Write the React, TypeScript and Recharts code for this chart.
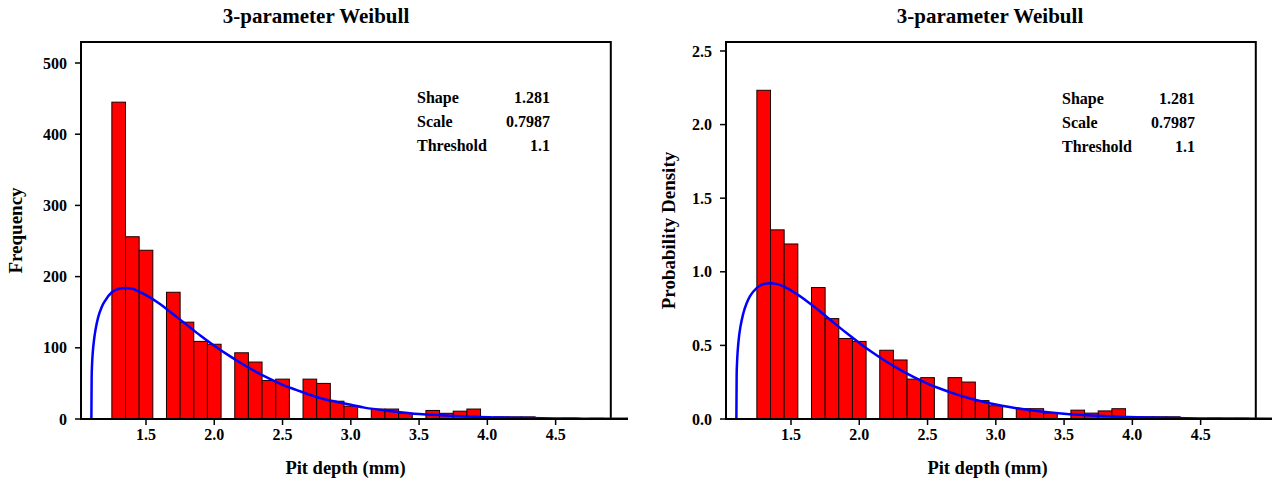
import React from 'react';
import { ComposedChart, Bar, Line, XAxis, YAxis, ReferenceArea } from 'recharts';

// ---- data ----
const binCenters = [1.3, 1.4, 1.5, 1.7, 1.8, 1.9, 2.0, 2.2, 2.3, 2.4, 2.5, 2.7, 2.8, 2.9, 3.0, 3.2, 3.3, 3.4, 3.6, 3.7, 3.8, 3.9, 4.1, 4.2, 4.3, 4.6, 4.8];
const binCounts = [445, 256, 237, 178, 136, 109, 105, 93, 80, 54, 56, 56, 50, 25, 18, 14, 14, 8, 12, 8, 11, 14, 3, 3, 3, 1, 1];
const binDensities = [2.233, 1.285, 1.189, 0.893, 0.682, 0.547, 0.527, 0.467, 0.401, 0.271, 0.281, 0.281, 0.251, 0.125, 0.09, 0.07, 0.07, 0.04, 0.06, 0.04, 0.055, 0.07, 0.015, 0.015, 0.015, 0.005, 0.005];

const curveX = [1.1, 1.102, 1.105, 1.11, 1.12, 1.13, 1.15, 1.175, 1.2, 1.25, 1.3, 1.35, 1.4, 1.45, 1.5, 1.6, 1.7, 1.8, 1.9, 2.0, 2.1, 2.2, 2.3, 2.4, 2.5, 2.6, 2.7, 2.8, 2.9, 3.0, 3.1, 3.3, 3.5, 3.7, 3.9, 4.1, 4.3, 4.5, 4.7, 5.03];
const curveFreq = [0, 59, 77, 93, 112, 125, 143, 157, 166, 178, 183, 184, 183, 179, 174, 162, 147, 132, 117, 103, 90, 78, 67, 57, 48, 41, 34, 28, 24, 20, 16, 11, 7, 5, 3, 2, 1.3, 0.8, 0.5, 0.2];
const curveDensity = [0, 0.298, 0.385, 0.467, 0.564, 0.628, 0.715, 0.786, 0.834, 0.891, 0.917, 0.923, 0.916, 0.899, 0.874, 0.812, 0.74, 0.664, 0.589, 0.517, 0.45, 0.389, 0.334, 0.285, 0.241, 0.204, 0.171, 0.143, 0.119, 0.098, 0.081, 0.055, 0.036, 0.024, 0.016, 0.01, 0.006, 0.004, 0.003, 0.001];

const xTicks = [1.5, 2.0, 2.5, 3.0, 3.5, 4.0, 4.5];
const freqTicks = [0, 100, 200, 300, 400, 500];
const densityTicks = [0, 0.5, 1.0, 1.5, 2.0, 2.5];

const paramLabels = ['Shape', 'Scale', 'Threshold'];
const paramValues = ['1.281', '0.7987', '1.1'];
const titleText = '3-parameter Weibull';
const xLabelText = 'Pit depth (mm)';

// ---- layout ----
const FONT = '"Liberation Serif", "Times New Roman", serif';
const CHART_W = 640;
const CHART_H = 483;
const MARGIN = { top: 42, right: 12, bottom: 4, left: 31 };
const YAXIS_W = 50;
const XAXIS_H = 60;
const X_MIN = 1.024;
const X_MAX = 5.03;
const FRAME_X = 4.904;
const BIN = 0.1;
const PLOT_W = CHART_W - MARGIN.left - MARGIN.right - YAXIS_W;
const BIN_PX = (BIN * PLOT_W) / (X_MAX - X_MIN);

const BinShape = (props: any) => {
  const { x, width, y, height } = props;
  if (!height || height <= 0 || !isFinite(x)) return null;
  const cx = x + (width || 0) / 2;
  return (
    <rect
      x={cx - BIN_PX / 2}
      y={y}
      width={BIN_PX}
      height={height}
      fill="#FF0000"
      stroke="#1a0000"
      strokeWidth={1}
    />
  );
};

type PanelProps = {
  left: number;
  yMax: number;
  yTicks: number[];
  yFmt: (v: number) => string;
  yLabel: string;
  yLabelOffset: number;
  bars: number[];
  curve: number[];
  titleCx: number;
  xLabelDx: number;
  legendTop: number;
};

const Panel = ({ left, yMax, yTicks, yFmt, yLabel, yLabelOffset, bars, curve, titleCx, xLabelDx, legendTop }: PanelProps) => {
  const barData = binCenters.map((x, i) => ({ x, y: bars[i] }));
  const lineData = curveX.map((x, i) => ({ x, y: curve[i] }));
  const tickStyle = { fontFamily: FONT, fontWeight: 'bold' as const, fontSize: 16, fill: '#000' };
  const frameLeft = MARGIN.left + YAXIS_W;
  return (
    <div style={{ position: 'absolute', left, top: 0, width: CHART_W, height: CHART_H }}>
      <div
        style={{
          position: 'absolute',
          left: titleCx - 200,
          width: 400,
          top: 4,
          textAlign: 'center',
          fontFamily: FONT,
          fontWeight: 'bold',
          fontSize: 21,
          lineHeight: '24px',
        }}
      >
        {titleText}
      </div>
      <ComposedChart width={CHART_W} height={CHART_H} data={barData} margin={MARGIN}>
        <XAxis
          type="number"
          dataKey="x"
          domain={[X_MIN, X_MAX]}
          allowDataOverflow
          ticks={xTicks}
          interval={0}
          tickFormatter={(v: number) => v.toFixed(1)}
          height={XAXIS_H}
          tick={tickStyle}
          tickSize={6}
          tickMargin={4}
          axisLine={{ stroke: '#000', strokeWidth: 2 }}
          tickLine={{ stroke: '#000', strokeWidth: 1.5 }}
          label={{
            value: xLabelText,
            position: 'insideBottom',
            offset: 5,
            dx: xLabelDx,
            style: { fontFamily: FONT, fontWeight: 'bold', fontSize: 18.5, fill: '#000' },
          }}
        />
        <YAxis
          type="number"
          domain={[0, yMax]}
          allowDataOverflow
          ticks={yTicks}
          interval={0}
          tickFormatter={yFmt}
          width={YAXIS_W}
          tick={tickStyle}
          tickSize={6}
          tickMargin={8}
          axisLine={{ stroke: '#000', strokeWidth: 2 }}
          tickLine={{ stroke: '#000', strokeWidth: 1.5 }}
          label={{
            value: yLabel,
            angle: -90,
            position: 'insideLeft',
            offset: yLabelOffset,
            style: { textAnchor: 'middle', fontFamily: FONT, fontWeight: 'bold', fontSize: 19, fill: '#000' },
          }}
        />
        <ReferenceArea x1={X_MIN} x2={FRAME_X} y1={0} y2={yMax} fill="none" stroke="#000" strokeWidth={2} ifOverflow="visible" />
        <Bar dataKey="y" shape={BinShape} isAnimationActive={false} />
        <Line
          data={lineData}
          dataKey="y"
          type="monotone"
          stroke="#0000FF"
          strokeWidth={2.5}
          dot={false}
          activeDot={false}
          isAnimationActive={false}
        />
      </ComposedChart>
      {paramLabels.map((lab, i) => (
        <div
          key={lab}
          style={{
            position: 'absolute',
            left: frameLeft + 336,
            width: 133,
            top: legendTop + i * 24,
            display: 'flex',
            justifyContent: 'space-between',
            fontFamily: FONT,
            fontWeight: 'bold',
            fontSize: 16,
            lineHeight: '18px',
          }}
        >
          <span>{lab}</span>
          <span>{paramValues[i]}</span>
        </div>
      ))}
    </div>
  );
};

export default function App() {
  return (
    <div style={{ position: 'absolute', left: 0, top: 0, width: 1272, height: 483, overflow: 'hidden', background: '#fff' }}>
      <Panel
        left={0}
        yMax={529.5}
        yTicks={freqTicks}
        yFmt={(v: number) => String(v)}
        yLabel="Frequency"
        yLabelOffset={-16}
        bars={binCounts}
        curve={curveFreq}
        titleCx={316}
        xLabelDx={-9}
        legendTop={89}
      />
      <Panel
        left={645}
        yMax={2.561}
        yTicks={densityTicks}
        yFmt={(v: number) => v.toFixed(1)}
        yLabel="Probability Density"
        yLabelOffset={-8}
        bars={binDensities}
        curve={curveDensity}
        titleCx={345}
        xLabelDx={-12}
        legendTop={90}
      />
    </div>
  );
}
